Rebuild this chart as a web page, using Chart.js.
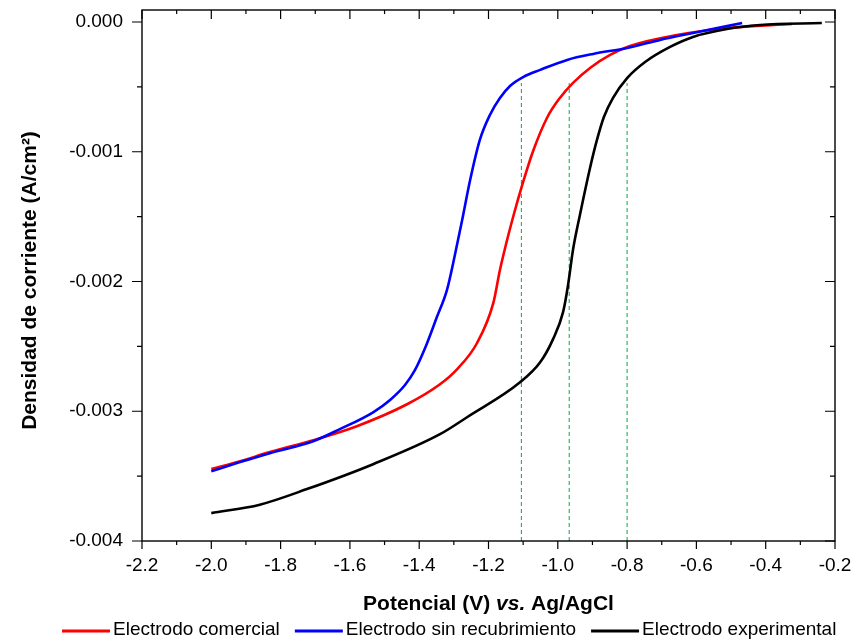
<!DOCTYPE html>
<html><head><meta charset="utf-8">
<script src="https://cdn.jsdelivr.net/npm/chart.js@4.4.1/dist/chart.umd.min.js"></script>
<style>html,body{margin:0;padding:0;background:#fff;}</style>
</head><body>
<canvas id="c" width="853" height="641"></canvas>
<script>
// ---- data ----
const comercialV = [-2.00,-1.917,-1.831,-1.706,-1.580,-1.435,-1.340,-1.291,-1.233,-1.186,-1.167,-1.150,-1.129,-1.100,-1.072,-1.031,-0.994,-0.956,-0.907,-0.849,-0.792,-0.656,-0.512,-0.324];
const comercialJ = [-0.003446,-0.003385,-0.003315,-0.003223,-0.003115,-0.002946,-0.002792,-0.002677,-0.002474,-0.002165,-0.001911,-0.001719,-0.001503,-0.001233,-0.001,-0.000738,-0.000585,-0.000469,-0.000354,-0.000254,-0.000185,-0.0001,-0.000046,-0.000015];

const sinRecV = [-2.00,-1.917,-1.831,-1.706,-1.629,-1.533,-1.484,-1.441,-1.412,-1.383,-1.349,-1.320,-1.297,-1.276,-1.253,-1.225,-1.196,-1.167,-1.138,-1.100,-1.051,-0.973,-0.898,-0.800,-0.705,-0.610,-0.468];
const sinRecJ = [-0.003462,-0.003392,-0.003323,-0.003231,-0.003138,-0.003008,-0.002913,-0.002798,-0.002682,-0.002513,-0.002274,-0.002066,-0.001796,-0.001526,-0.001218,-0.000909,-0.000717,-0.000586,-0.000493,-0.000424,-0.000369,-0.000292,-0.000246,-0.0002,-0.000138,-0.000085,-0.000008];

const experimentalV = [-2.00,-1.86,-1.724,-1.533,-1.340,-1.262,-1.109,-1.051,-1.014,-0.985,-0.971,-0.956,-0.936,-0.907,-0.887,-0.867,-0.841,-0.800,-0.748,-0.676,-0.610,-0.512,-0.416,-0.238];
const experimentalJ = [-0.003785,-0.00372,-0.0036,-0.003408,-0.003177,-0.003046,-0.002777,-0.002623,-0.002446,-0.002238,-0.002038,-0.001754,-0.001485,-0.001125,-0.000909,-0.000732,-0.000586,-0.000432,-0.000308,-0.000192,-0.000115,-0.000054,-0.000023,-0.000008];

const markerV = [-1.105, -0.967, -0.800];
const markerTopJ = -0.00047;

const seriesLabels = ['Electrodo comercial','Electrodo sin recubrimiento','Electrodo experimental'];
const seriesColors = ['#ff0000','#0000ff','#000000'];
const xTickValues = [-2.2,-2.0,-1.8,-1.6,-1.4,-1.2,-1.0,-0.8,-0.6,-0.4,-0.2];
const yTickValues = [-0.004,-0.003,-0.002,-0.001,0.000];
const xMin = -2.2, xMax = -0.2, yMin = -0.004, yMax = 0.0000925;
const yTitle = 'Densidad de corriente (A/cm²)';
const xTitleParts = [['Potencial (V) ', 'bold'], ['vs.', 'italic bold'], [' Ag/AgCl', 'bold']];

// ---- helpers ----
const pts = (V, J) => V.map((v, i) => ({x: v, y: J[i]}));
const withMinors = vals => {
  const out = [];
  vals.forEach((v, i) => {
    out.push({value: v, major: true});
    if (i < vals.length - 1) out.push({value: (v + vals[i+1]) / 2, major: false});
  });
  return out;
};
const FONT = "'Liberation Sans', Arial, sans-serif";

const curve = (i, V, J, order) => ({
  label: seriesLabels[i], data: pts(V, J), borderColor: seriesColors[i], backgroundColor: seriesColors[i],
  borderWidth: 2.6, pointRadius: 0, cubicInterpolationMode: 'monotone', order, isCurve: true
});

const markerSets = markerV.map(v => ({
  label: '_marker', data: [{x: v, y: yMin}, {x: v, y: markerTopJ}],
  borderColor: '#19b35a', borderWidth: 1.1, borderDash: [4, 3], pointRadius: 0, order: 5
}));

const decorations = {
  id: 'decorations',
  afterDraw(chart) {
    const {ctx, chartArea: a, scales: {x, y}} = chart;
    ctx.save();
    ctx.strokeStyle = '#000';
    ctx.lineWidth = 1.4;
    ctx.strokeRect(a.left, a.top, a.right - a.left, a.bottom - a.top);
    ctx.lineWidth = 1.2;
    ctx.beginPath();
    x.ticks.forEach(t => {
      const px = x.getPixelForValue(t.value);
      const outL = t.major ? 8 : 4, inL = t.major ? 9 : 4;
      ctx.moveTo(px, a.bottom); ctx.lineTo(px, a.bottom + outL);
      ctx.moveTo(px, a.top); ctx.lineTo(px, a.top + inL);
    });
    y.ticks.forEach(t => {
      const py = y.getPixelForValue(t.value);
      const L = t.major ? 10 : 5;
      ctx.moveTo(a.left - L, py); ctx.lineTo(a.left, py);
      ctx.moveTo(a.right, py); ctx.lineTo(a.right - L, py);
    });
    ctx.stroke();

    ctx.fillStyle = '#000';
    ctx.textBaseline = 'middle';
    // x-axis title with italic "vs."
    let total = 0;
    xTitleParts.forEach(p => { ctx.font = p[1] + ' 21px ' + FONT; total += ctx.measureText(p[0]).width; });
    let cx = (a.left + a.right) / 2 - total / 2;
    ctx.textAlign = 'left';
    xTitleParts.forEach(p => { ctx.font = p[1] + ' 21px ' + FONT; ctx.fillText(p[0], cx, 604); cx += ctx.measureText(p[0]).width; });

    // y-axis title
    ctx.save();
    ctx.translate(30, (a.top + a.bottom) / 2 + 5);
    ctx.rotate(-Math.PI / 2);
    ctx.textAlign = 'center';
    ctx.font = 'bold 21px ' + FONT;
    ctx.fillText(yTitle, 0, 0);
    ctx.restore();

    // legend
    ctx.font = '19px ' + FONT;
    ctx.textAlign = 'left';
    let lx = 62;
    const ly = 631;
    chart.data.datasets.forEach(ds => {
      if (!ds.isCurve) return;
      ctx.strokeStyle = ds.borderColor;
      ctx.lineWidth = 3;
      ctx.beginPath(); ctx.moveTo(lx, ly); ctx.lineTo(lx + 48, ly); ctx.stroke();
      ctx.fillText(ds.label, lx + 51, ly - 1);
      lx += 51 + ctx.measureText(ds.label).width + 15;
    });
    ctx.restore();
  }
};

new Chart(document.getElementById('c'), {
  type: 'line',
  data: {
    datasets: [
      curve(0, comercialV, comercialJ, 3),
      curve(1, sinRecV, sinRecJ, 2),
      curve(2, experimentalV, experimentalJ, 1),
      ...markerSets
    ]
  },
  options: {
    responsive: false,
    animation: false,
    devicePixelRatio: 1,
    layout: {padding: {left: 0, right: 18, top: 10, bottom: 0}},
    plugins: {tooltip: {enabled: false}, legend: {display: false}},
    scales: {
      x: {
        type: 'linear', min: xMin, max: xMax,
        afterBuildTicks: s => { s.ticks = withMinors(xTickValues); },
        afterFit: s => { s.height = 641 - 541; s.paddingLeft = 0; s.paddingRight = 0; },
        grid: {display: false, drawTicks: true, tickLength: 8},
        border: {display: false},
        ticks: {
          color: '#000', font: {family: FONT, size: 19}, padding: 5, maxRotation: 0, autoSkip: false,
          callback: (v, i, ticks) => ticks[i].major ? v.toFixed(1) : ''
        }
      },
      y: {
        type: 'linear', min: yMin, max: yMax,
        afterBuildTicks: s => { s.ticks = withMinors(yTickValues); },
        afterFit: s => { s.width = 142; s.paddingTop = 0; s.paddingBottom = 0; },
        grid: {display: false, drawTicks: true, tickLength: 10},
        border: {display: false},
        ticks: {
          color: '#000', font: {family: FONT, size: 19}, padding: 9, autoSkip: false,
          callback: (v, i, ticks) => ticks[i].major ? (Math.abs(v) < 1e-9 ? '0.000' : v.toFixed(3)) : ''
        }
      }
    }
  },
  plugins: [decorations]
});
</script>
</body></html>
